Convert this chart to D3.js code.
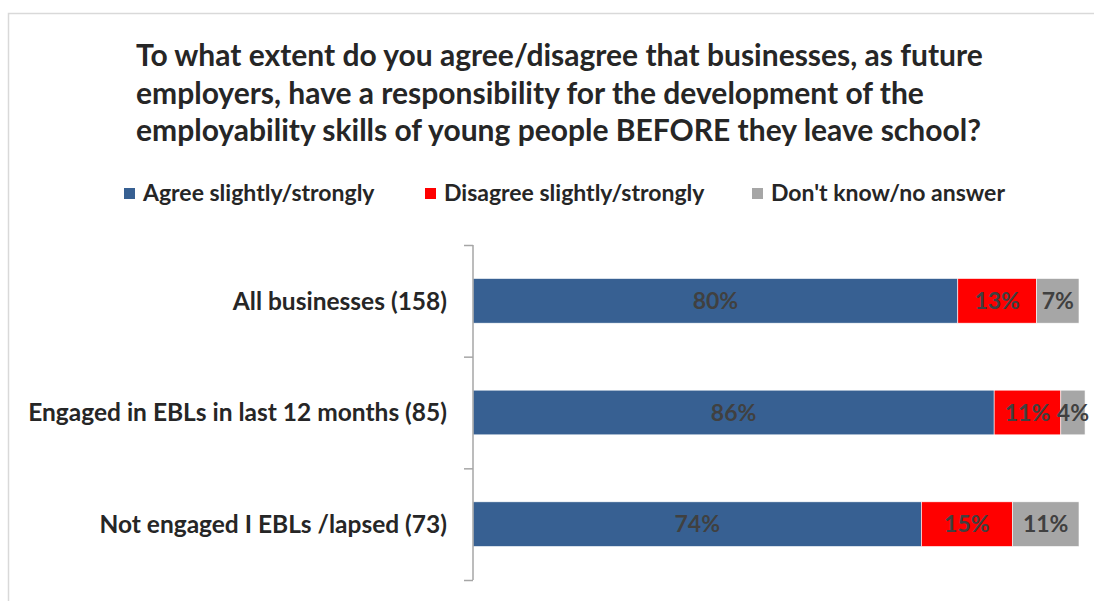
<!DOCTYPE html>
<html>
<head>
<meta charset="utf-8">
<script src="https://cdn.jsdelivr.net/npm/d3@7"></script>
<style>
  html, body { margin: 0; padding: 0; background: #fff; }
  svg { display: block; font-family: Lato, "Open Sans", sans-serif; }
</style>
</head>
<body>
<svg id="chart" width="1094" height="601"></svg>
<script>
// Survey groups and response shares (%)
const categories = ["All businesses (158)", "Engaged in EBLs in last 12 months (85)", "Not engaged I EBLs /lapsed (73)"];
const seriesNames = ["Agree slightly/strongly", "Disagree slightly/strongly", "Don't know/no answer"];
const agree    = [80, 86, 74];
const disagree = [13, 11, 15];
const dontKnow = [7, 4, 11];
const titleLines = [
  "To what extent do you agree/disagree that businesses, as future",
  "employers, have a responsibility for the development of the",
  "employability skills of young people BEFORE they leave school?"
];
const colors = ["#376092", "#FF0000", "#A6A6A6"];

const rows = categories.map((c, i) => ({
  category: c,
  [seriesNames[0]]: agree[i],
  [seriesNames[1]]: disagree[i],
  [seriesNames[2]]: dontKnow[i]
}));

const svg = d3.select("#chart");
svg.append("rect").attr("width", 1094).attr("height", 601).attr("fill", "#fff");

// chart area frame
svg.append("rect")
  .attr("x", 8.5).attr("y", 13.5).attr("width", 1100).attr("height", 600)
  .attr("fill", "none").attr("stroke", "#d9d9d9").attr("stroke-width", 1.5);

// Title
svg.append("g").selectAll("text").data(titleLines).join("text")
  .attr("x", 136).attr("y", (d, i) => 66 + i * 37.5)
  .attr("font-size", 30).attr("font-weight", 700).attr("fill", "#262626")
  .text(d => d);

// Legend
const legendX = [124, 425, 752];
const legend = svg.append("g").selectAll("g").data(seriesNames).join("g")
  .attr("transform", (d, i) => `translate(${legendX[i]},188)`);
legend.append("rect").attr("width", 11).attr("height", 11).attr("fill", (d, i) => colors[i]);
legend.append("text").attr("x", 19).attr("y", 13)
  .attr("font-size", 23).attr("font-weight", 700).attr("fill", "#262626")
  .text(d => d);

// Scales
const x = d3.scaleLinear().domain([0, 100]).range([473, 1079]);
const y = d3.scaleBand().domain(categories).range([245, 580])
  .paddingInner(0.6).paddingOuter(0.3);

const stack = d3.stack().keys(seriesNames);
const layers = stack(rows);

const layerG = svg.append("g").selectAll("g").data(layers).join("g")
  .attr("fill", (d, i) => colors[i]);

layerG.selectAll("rect").data(d => d).join("rect")
  .attr("x", d => x(d[0]))
  .attr("y", d => y(d.data.category))
  .attr("width", d => x(d[1]) - x(d[0]))
  .attr("height", y.bandwidth())
  .attr("stroke", "#fff").attr("stroke-width", 0.6);

// value labels
layerG.selectAll("text").data(d => d).join("text")
  .attr("x", d => (x(d[0]) + x(d[1])) / 2)
  .attr("y", d => y(d.data.category) + y.bandwidth() / 2)
  .attr("dy", "0.36em")
  .attr("text-anchor", "middle")
  .attr("font-size", 23).attr("font-weight", 700).attr("fill", "#404040")
  .text(d => (d[1] - d[0]) + "%");

// Category axis with tick marks between groups
const tickScale = d3.scaleLinear().domain([0, categories.length]).range([245, 580]);
const axis = svg.append("g").attr("transform", "translate(473,0)")
  .call(d3.axisLeft(tickScale).ticks(categories.length).tickSize(9).tickFormat(""));
axis.select(".domain").attr("stroke", "#a6a6a6").attr("stroke-width", 1.5)
  .attr("d", "M0,245V580");
axis.selectAll(".tick line").attr("stroke", "#a6a6a6").attr("stroke-width", 1.5);

// Category labels
svg.append("g").selectAll("text").data(categories).join("text")
  .attr("x", 447)
  .attr("y", d => y(d) + y.bandwidth() / 2)
  .attr("dy", "0.36em")
  .attr("text-anchor", "end")
  .attr("font-size", 24.5).attr("font-weight", 700).attr("fill", "#262626")
  .text(d => d);
</script>
</body>
</html>
